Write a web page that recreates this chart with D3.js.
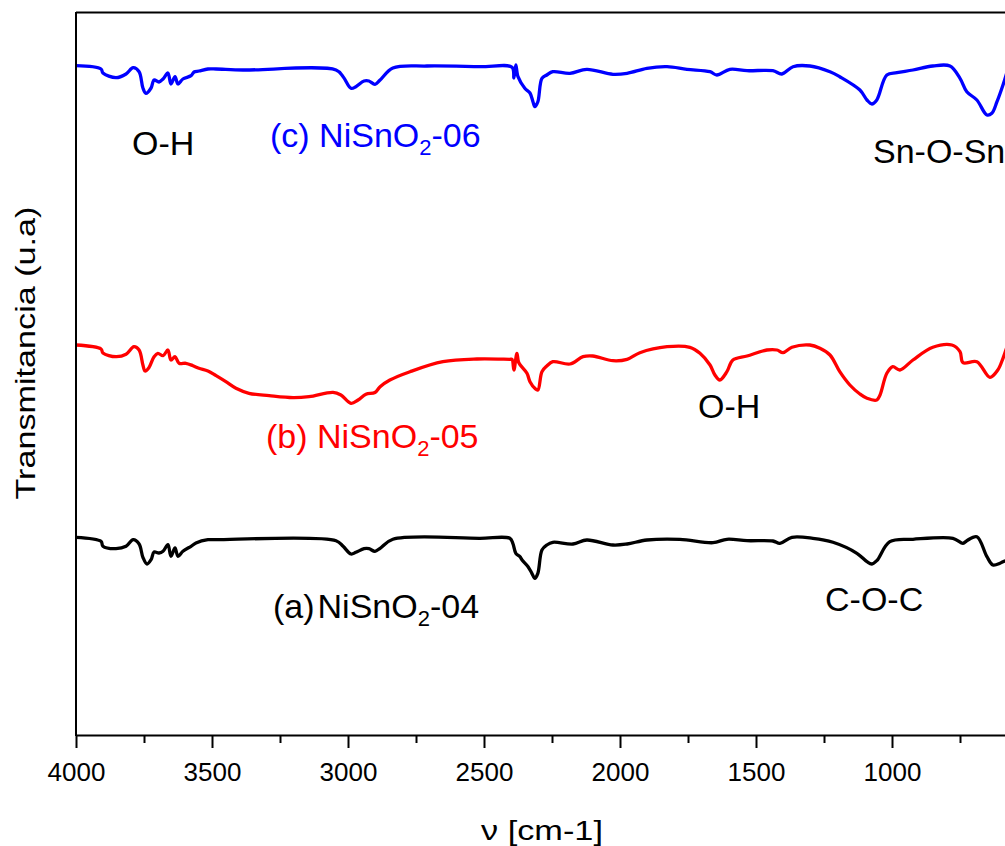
<!DOCTYPE html>
<html>
<head>
<meta charset="utf-8">
<script src="https://cdn.jsdelivr.net/npm/d3@7"></script>
<style>
  body { margin: 0; background: #fff; }
  text { font-family: "Liberation Sans", Arial, sans-serif; }
</style>
</head>
<body>
<script>
//size svg variable
var outerWidth = 1005;
var outerHeight = 846;

//wavenumbers and transmittance (a.u.)
var waveC = [4000,3908,3901,3853,3816,3790,3768,3754,3743,3724,3713,3695,3680,3662,3651,3636,3625,3607,3577,3566,3548,3515,3485,3386,3044,3018,2989,2971,2941,2923,2901,2882,2835,2710,2515,2397,2390,2383,2375,2350,2331,2320,2313,2302,2287,2269,2247,2184,2122,2026,1974,1901,1827,1754,1669,1644,1596,1533,1438,1405,1364,1302,1228,1192,1118,1092,1074,1056,1019,982,923,850,787,750,725,688,651,633,614,592,575];
var transC = [669.3,666,662,657.3,661,667.3,663.3,647,641.7,647,655,653,656,662,651,658.3,651,656,659.3,663,664,666,666,665,665,658.3,646.7,648.3,654,654,650.7,655,667,669,668.3,667.7,657,670,658.3,646.7,642,633.3,628.3,633.3,656.7,660,663.3,661.7,665.7,660.7,661.7,666.7,668.3,665.7,663.3,660,665.7,664.3,664.3,661,668.3,669,663.3,658.3,645,635,631,635,660,662.3,665,669,669,656.7,643.3,635,620,621.7,633.3,650,665];

var waveB = [4000,3908,3901,3853,3816,3787,3768,3754,3746,3732,3713,3699,3680,3662,3651,3636,3621,3596,3570,3548,3515,3485,3449,3412,3364,3290,3202,3143,3055,3026,2989,2963,2934,2901,2882,2846,2772,2651,2526,2405,2397,2390,2379,2372,2342,2331,2313,2302,2287,2269,2247,2184,2136,2100,2026,1974,1927,1827,1743,1706,1669,1651,1633,1607,1585,1533,1460,1423,1401,1368,1302,1265,1228,1192,1155,1118,1092,1056,1044,1019,997,971,923,850,780,750,739,688,640,611,592,575];
var transB = [390,386,382,378.3,380.7,388.3,385,370,364,367.3,378.3,381.7,379.3,385,375,378.3,371.7,371.7,369.3,366.7,364,359.3,353.3,346.7,341.7,339.3,337.3,338.3,342.7,340,331.7,335,340.7,342.5,348.3,355,363.3,373.3,376,375.7,375.7,365,381.7,372.3,361.7,353.3,346.7,345,363.3,369,373.3,371,378.3,379,374.3,375.7,382.3,388.3,387.7,381.7,370,360,355,363.3,375,379,385,385,382.3,387.7,390,386.7,380,363.3,350,341,336.7,335,340,361.7,368.3,365,375,387.7,390,383.3,372.3,373.3,357.7,365,376.7,390];

var waveA = [4000,3908,3901,3853,3816,3790,3768,3754,3739,3724,3713,3695,3680,3662,3651,3636,3625,3607,3577,3559,3515,3485,3044,3018,2989,2971,2941,2923,2901,2882,2835,2515,2405,2394,2383,2368,2360,2338,2324,2313,2302,2287,2269,2247,2173,2122,2026,1974,1901,1780,1658,1607,1533,1438,1412,1368,1291,1217,1129,1092,1074,1056,1008,923,776,739,725,688,651,629,603,592,575];
var transA = [197.7,193.7,188.7,186.3,188.7,195.3,191,177.7,171,175.3,183,182,183.7,190.3,178.7,187,178.7,183.7,188.7,192,195.3,195.3,194.3,188.7,181,182.7,186.3,186.3,183.7,186.7,195.7,196.7,196.7,191.7,181.7,178.3,175,168.3,161.7,156.7,161.7,185,190,192.7,191,195,190,191,195,195.7,192.3,195.7,194.3,194,191.7,197.7,196.7,192.7,181.7,173.3,171,174.3,193.3,195.7,196.7,191.7,194.3,198.3,178.3,170,171.7,173.3,175];

var seriesNames = ["(c) NiSnO2-06", "(b) NiSnO2-05", "(a)NiSnO2-04"];
var majorTicks = [4000, 3500, 3000, 2500, 2000, 1500, 1000];
var minorTicks = [3750, 3250, 2750, 2250, 1750, 1250, 750];

//insert svg in body
var svg = d3.select("body").append("svg")
  .attr("width", outerWidth)
  .attr("height", outerHeight);

//scales (x is reversed, plot runs past the right edge of the picture)
var xScale = d3.scaleLinear().domain([4000, 400]).range([76, 1055.2]);
var yScale = d3.scaleLinear().domain([0, 723]).range([735, 12]);

//build point lists
function pts(w, t){
  return w.map(function(d, i){ return {w: d, t: t[i]}; });
}
var series = [
  {data: pts(waveC, transC), color: "#0000ff"},
  {data: pts(waveB, transB), color: "#ff0000"},
  {data: pts(waveA, transA), color: "#000000"}
];

var line = d3.line()
  .x(function(d){ return xScale(d.w); })
  .y(function(d){ return yScale(d.t); })
  .curve(d3.curveCatmullRom.alpha(0.5));

svg.selectAll("path.spec")
  .data(series)
  .enter()
  .append("path")
  .attr("class", "spec")
  .attr("d", function(d){ return line(d.data); })
  .attr("fill", "none")
  .attr("stroke", function(d){ return d.color; })
  .attr("stroke-width", 3.3)
  .attr("stroke-linejoin", "round");

//frame: top and left
svg.append("line")
  .attr("x1", 76).attr("x2", outerWidth)
  .attr("y1", 12.5).attr("y2", 12.5)
  .attr("stroke", "#000").attr("stroke-width", 2);

svg.append("line")
  .attr("x1", 76).attr("x2", 76)
  .attr("y1", 12).attr("y2", 736)
  .attr("stroke", "#000").attr("stroke-width", 2);

//bottom axis, major ticks
var xAxis = svg.append("g")
  .attr("transform", "translate(0,735)")
  .call(d3.axisBottom(xScale).tickValues(majorTicks).tickSize(13).tickSizeOuter(0).tickPadding(15).tickFormat(d3.format("d")));
xAxis.select(".domain").attr("stroke-width", 2);
xAxis.selectAll(".tick line").attr("stroke-width", 2);
xAxis.selectAll("text").attr("font-size", 26).attr("fill", "#000").style("font-family", '"Liberation Sans", Arial, sans-serif');

//minor ticks
var xMinor = svg.append("g")
  .attr("transform", "translate(0,735)")
  .call(d3.axisBottom(xScale).tickValues(minorTicks).tickSize(8).tickSizeOuter(0).tickFormat(""));
xMinor.select(".domain").remove();
xMinor.selectAll(".tick line").attr("stroke-width", 2);

//axis titles
svg.append("text")
  .attr("x", 542).attr("y", 840)
  .attr("text-anchor", "middle")
  .attr("font-size", 27)
  .attr("textLength", 122)
  .attr("lengthAdjust", "spacingAndGlyphs")
  .text("\u03bd [cm-1]");

svg.append("text")
  .attr("transform", "translate(35,353) rotate(-90)")
  .attr("text-anchor", "middle")
  .attr("font-size", 27)
  .attr("textLength", 293)
  .attr("lengthAdjust", "spacingAndGlyphs")
  .text("Transmitancia (u.a)");

//sample labels with subscript 2
var labelPos = [
  {x: 270, y: 147, color: "#0000ff", pre: "(c) ", post: "-06"},
  {x: 266, y: 448, color: "#ff0000", pre: "(b) ", post: "-05"},
  {x: 273, y: 618, color: "#000000", pre: "(a)", post: "-04"}
];
labelPos.forEach(function(p){
  var t = svg.append("text")
    .attr("x", p.x).attr("y", p.y)
    .attr("font-size", 34)
    .attr("fill", p.color);
  t.append("tspan").text(p.pre);
  t.append("tspan").attr("dx", p.pre === "(a)" ? 3 : 0).text("NiSnO");
  t.append("tspan").attr("font-size", 22).attr("dy", 8).text("2");
  t.append("tspan").attr("dy", -8).text(p.post);
});

//band labels
var bands = [
  {x: 132, y: 155, text: "O-H"},
  {x: 873, y: 163, text: "Sn-O-Sn"},
  {x: 698, y: 418, text: "O-H"},
  {x: 825, y: 611, text: "C-O-C"}
];
svg.selectAll("text.band")
  .data(bands)
  .enter()
  .append("text")
  .attr("class", "band")
  .attr("x", function(d){ return d.x; })
  .attr("y", function(d){ return d.y; })
  .attr("font-size", 34)
  .attr("fill", "#000")
  .text(function(d){ return d.text; });
</script>
</body>
</html>
